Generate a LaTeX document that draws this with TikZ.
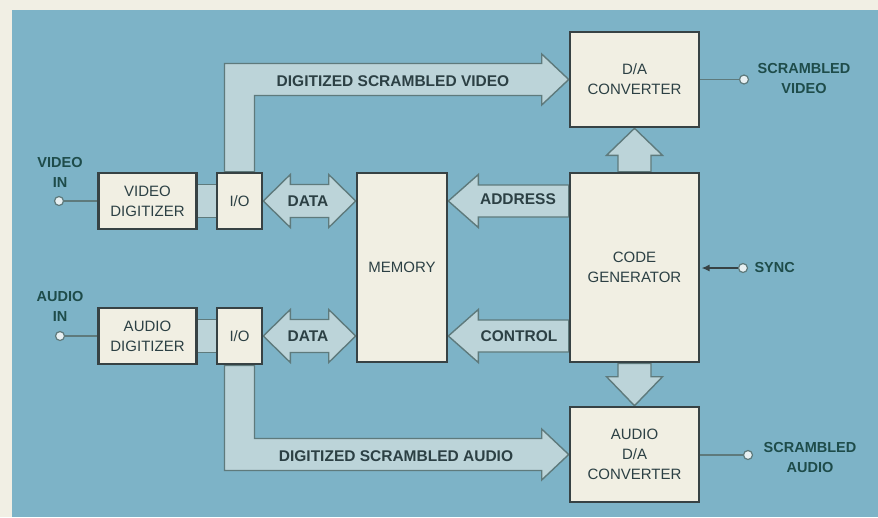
\documentclass[tikz,border=0pt]{standalone}
\usepackage{fontspec}
\setmainfont{Liberation Sans}
\usetikzlibrary{calc,arrows.meta}
\definecolor{bgblue}{RGB}{125,179,199}
\definecolor{margin}{RGB}{241,239,228}
\definecolor{boxfill}{RGB}{241,239,227}
\definecolor{fatfill}{RGB}{188,212,217}
\definecolor{edge}{RGB}{55,66,68}
\definecolor{fatedge}{RGB}{94,122,124}
\definecolor{lbl}{RGB}{44,64,68}
\definecolor{extlbl}{RGB}{30,76,74}
\pgfdeclarelayer{bg}\pgfdeclarelayer{mid}\pgfsetlayers{bg,mid,main}
\begin{document}
\begin{tikzpicture}[x=1pt,y=-1pt,
  block/.style={draw=edge,line width=2.6pt,fill=boxfill,inner sep=0pt,
    font=\fontsize{15}{20}\selectfont,text=lbl,align=center},
  fat/.style={draw=fatedge,line width=1.4pt,fill=fatfill,line join=miter},
  flbl/.style={font=\bfseries\fontsize{15.5}{19}\selectfont,text=lbl},
  ext/.style={font=\bfseries\fontsize{14.5}{20}\selectfont,text=extlbl,align=center},
  term/.style={circle,draw=fatedge,line width=1.2pt,fill=white!65!fatfill,
    minimum size=9pt,inner sep=0pt},
  wire/.style={draw=fatedge,line width=1.3pt}]
\useasboundingbox (0,0) rectangle (878,517);
\begin{pgfonlayer}{bg}
  \fill[margin] (0,0) rectangle (878,517);
  \fill[bgblue] (12,10) rectangle (878,517);
\end{pgfonlayer}

% blocks
\node[block,minimum width=98pt,minimum height=56pt] (vdig) at (147.5,201) {VIDEO\\DIGITIZER};
\node[block,minimum width=45pt,minimum height=56pt] (vio) at (239.5,201) {I/O};
\node[block,minimum width=98pt,minimum height=56pt] (adig) at (147.5,336) {AUDIO\\DIGITIZER};
\node[block,minimum width=45pt,minimum height=56pt] (aio) at (239.5,336) {I/O};
\node[block,minimum width=90pt,minimum height=189pt] (mem) at (402,267.5) {MEMORY};
\node[block,minimum width=129pt,minimum height=95pt] (vda) at (634.5,79.5) {D/A\\CONVERTER};
\node[block,minimum width=129pt,minimum height=189pt] (cg) at (634.5,267.5) {CODE\\GENERATOR};
\node[block,minimum width=129pt,minimum height=95pt] (ada) at (634.5,454.5) {AUDIO\\D/A\\CONVERTER};

% helper coordinates
\coordinate (vdl) at (mem.west |- vio);
\coordinate (adl) at (mem.west |- aio);
\coordinate (adr1) at (cg.west |- vio);
\coordinate (adr2) at (mem.east |- vio);
\coordinate (ctl1) at (cg.west |- aio);
\coordinate (ctl2) at (mem.east |- aio);
\coordinate (vb) at (vio.north |- vda.west);
\coordinate (ab) at (aio.south |- ada.west);

\begin{pgfonlayer}{mid}
  % digitizer to I/O bands
  \fill[fatfill] ($(vdig.east)+(0,-16.5)$) rectangle ($(vio.west)+(0,16.5)$);
  \draw[wire] ($(vdig.east)+(0,-16.5)$) -- ($(vio.west)+(0,-16.5)$)
              ($(vdig.east)+(0,16.5)$) -- ($(vio.west)+(0,16.5)$);
  \fill[fatfill] ($(adig.east)+(0,-16.5)$) rectangle ($(aio.west)+(0,16.5)$);
  \draw[wire] ($(adig.east)+(0,-16.5)$) -- ($(aio.west)+(0,-16.5)$)
              ($(adig.east)+(0,16.5)$) -- ($(aio.west)+(0,16.5)$);
  % DATA double arrows
  \foreach \a/\b in {vio.east/vdl, aio.east/adl}{
    \draw[fat] (\a) -- ($(\a)+(27,-26.5)$) -- ($(\a)+(27,-16.5)$) -- ($(\b)+(-27,-16.5)$)
      -- ($(\b)+(-27,-26.5)$) -- (\b) -- ($(\b)+(-27,26.5)$) -- ($(\b)+(-27,16.5)$)
      -- ($(\a)+(27,16.5)$) -- ($(\a)+(27,26.5)$) -- cycle;}
  % ADDRESS and CONTROL arrows
  \foreach \a/\b in {adr1/adr2, ctl1/ctl2}{
    \draw[fat] ($(\a)+(0,-16)$) -- ($(\b)+(30,-16)$) -- ($(\b)+(30,-26.5)$) -- (\b)
      -- ($(\b)+(30,26.5)$) -- ($(\b)+(30,16)$) -- ($(\a)+(0,16)$) -- cycle;}
  % code generator to D/A converters
  \draw[fat] ($(cg.north)+(-16.5,0)$) -- ($(vda.south)+(-16.5,27)$) -- ($(vda.south)+(-28,27)$)
    -- (vda.south) -- ($(vda.south)+(28,27)$) -- ($(vda.south)+(16.5,27)$)
    -- ($(cg.north)+(16.5,0)$) -- cycle;
  \draw[fat] ($(cg.south)+(-16.5,0)$) -- ($(ada.north)+(-16.5,-29)$) -- ($(ada.north)+(-28,-29)$)
    -- (ada.north) -- ($(ada.north)+(28,-29)$) -- ($(ada.north)+(16.5,-29)$)
    -- ($(cg.south)+(16.5,0)$) -- cycle;
  % digitized scrambled video band
  \draw[fat] ($(vio.north)+(-15,0)$) -- ($(vb)+(-15,-16)$) -- ($(vda.west)+(-27,-16)$)
    -- ($(vda.west)+(-27,-25.5)$) -- (vda.west) -- ($(vda.west)+(-27,25.5)$)
    -- ($(vda.west)+(-27,16)$) -- ($(vb)+(15,16)$) -- ($(vio.north)+(15,0)$) -- cycle;
  % digitized scrambled audio band
  \draw[fat] ($(aio.south)+(-15,0)$) -- ($(ab)+(-15,16)$) -- ($(ada.west)+(-27,16)$)
    -- ($(ada.west)+(-27,25.5)$) -- (ada.west) -- ($(ada.west)+(-27,-25.5)$)
    -- ($(ada.west)+(-27,-16)$) -- ($(ab)+(15,-16)$) -- ($(aio.south)+(15,0)$) -- cycle;
\end{pgfonlayer}

% arrow labels
\node[flbl] (lv) at (393,81) {DIGITIZED SCRAMBLED VIDEO};
\node[flbl] (la) at (396,456) {DIGITIZED SCRAMBLED AUDIO};
\node[flbl] (ld1) at (308,201) {DATA};
\node[flbl] (ld2) at (308,336) {DATA};
\node[flbl] (lad) at (518,199) {ADDRESS};
\node[flbl] (lct) at (519,336) {CONTROL};

% terminals
\node[term] (vin) at (59,201) {};
\draw[wire] (vin) -- (vdig.west);
\node[ext] (lvin) at (60,172.5) {VIDEO\\IN};
\node[term] (ain) at (60,336) {};
\draw[wire] (ain) -- (adig.west);
\node[ext] (lain) at (60,306) {AUDIO\\IN};
\node[term] (vout) at (744,79.5) {};
\draw[wire] (vda.east) -- (vout);
\node[ext] (lvout) at (804,79) {SCRAMBLED\\VIDEO};
\node[term] (aout) at (748,455) {};
\draw[wire] (ada.east |- aout) -- (aout);
\node[ext] (laout) at (810,458) {SCRAMBLED\\AUDIO};
\node[term] (sync) at (743,268) {};
\draw[wire,-{Latex[length=8pt,width=7pt]},color=edge] (sync) -- ($(cg.east |- sync)+(1.3,0)$);
\node[ext,anchor=west] (lsync) at (751,268) {SYNC};
\end{tikzpicture}
\end{document}
